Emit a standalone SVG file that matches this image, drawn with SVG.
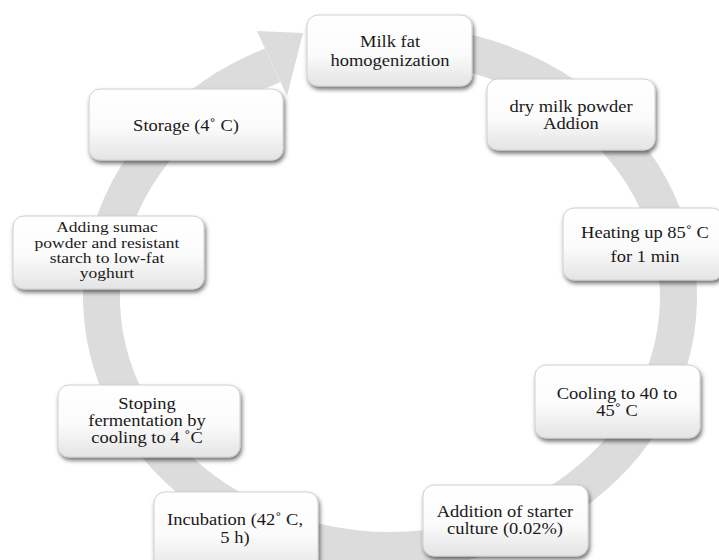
<svg xmlns="http://www.w3.org/2000/svg" width="719" height="560" viewBox="0 0 719 560">
<defs>
<linearGradient id="bg" x1="0" y1="0" x2="0" y2="1">
<stop offset="0" stop-color="#ffffff"/>
<stop offset="0.55" stop-color="#fbfbfb"/>
<stop offset="1" stop-color="#e4e4e4"/>
</linearGradient>
<filter id="sh" x="-10%" y="-10%" width="125%" height="130%">
<feDropShadow dx="1.5" dy="3" stdDeviation="2" flood-color="#000" flood-opacity="0.55"/>
</filter>
</defs>
<style>
.box{fill:url(#bg);stroke:#d0d0d0;stroke-width:1;filter:url(#sh)}
.t{font-family:"Liberation Serif","Times New Roman",serif;font-size:18.5px;fill:#1a1a1a;text-anchor:middle}
.s{font-size:17.5px}
.ring{fill:#dcdcdc}
</style>
<rect width="719" height="560" fill="#ffffff"/>
<g id="connectors">
<path class="ring" d="M 443.3 29.1 A 307 272 0 1 1 265.1 48.5 L 280.2 82.3 A 270 235 0 1 0 436.9 65.6 Z"/>
<polygon class="ring" points="257,31 303,33 287,96"/>
</g>
<g id="n1"><rect class="box" x="307" y="15" width="165" height="71" rx="11"/>
<text class="t" transform="translate(390 47) scale(1 0.85)">Milk fat</text><text class="t" transform="translate(390 66) scale(1 0.85)">homogenization</text></g>
<g id="n2"><rect class="box" x="487" y="79" width="168" height="71" rx="11"/>
<text class="t" transform="translate(571 112) scale(1 0.85)">dry milk powder</text><text class="t" transform="translate(571 129) scale(1 0.85)">Addion</text></g>
<g id="n3"><rect class="box" x="563" y="208" width="160" height="72" rx="11"/>
<text class="t" transform="translate(645 238) scale(1 0.85)">Heating up 85˚ C</text><text class="t" transform="translate(645 262) scale(1 0.85)">for 1 min</text></g>
<g id="n4"><rect class="box" x="535" y="365" width="165" height="73" rx="11"/>
<text class="t" transform="translate(617 399) scale(1 0.85)">Cooling to 40 to</text><text class="t" transform="translate(617 416) scale(1 0.85)">45˚ C</text></g>
<g id="n5"><rect class="box" x="423" y="485" width="165" height="71" rx="11"/>
<text class="t" transform="translate(505 517) scale(1 0.85)">Addition of starter</text><text class="t" transform="translate(505 534) scale(1 0.85)">culture (0.02%)</text></g>
<g id="n6"><rect class="box" x="154" y="492" width="164" height="80" rx="11"/>
<text class="t" transform="translate(235 525) scale(1 0.85)">Incubation (42˚ C,</text><text class="t" transform="translate(235 543) scale(1 0.85)">5 h)</text></g>
<g id="n7"><rect class="box" x="58" y="385" width="182" height="72" rx="11"/>
<text class="t" transform="translate(147 409) scale(1 0.85)">Stoping</text><text class="t" transform="translate(147 426) scale(1 0.85)">fermentation by</text><text class="t" transform="translate(147 443) scale(1 0.85)">cooling to 4 ˚C</text></g>
<g id="n8"><rect class="box" x="13" y="216" width="191" height="73" rx="11"/>
<text class="t s" transform="translate(107 232) scale(1 0.78)">Adding sumac</text><text class="t s" transform="translate(107 248) scale(1 0.78)">powder and resistant</text><text class="t s" transform="translate(107 263) scale(1 0.78)">starch to low-fat</text><text class="t s" transform="translate(107 278) scale(1 0.78)">yoghurt</text></g>
<g id="n9"><rect class="box" x="89" y="89" width="194" height="71" rx="11"/>
<text class="t" transform="translate(186 131) scale(1 0.85)">Storage (4˚ C)</text></g>
</svg>
